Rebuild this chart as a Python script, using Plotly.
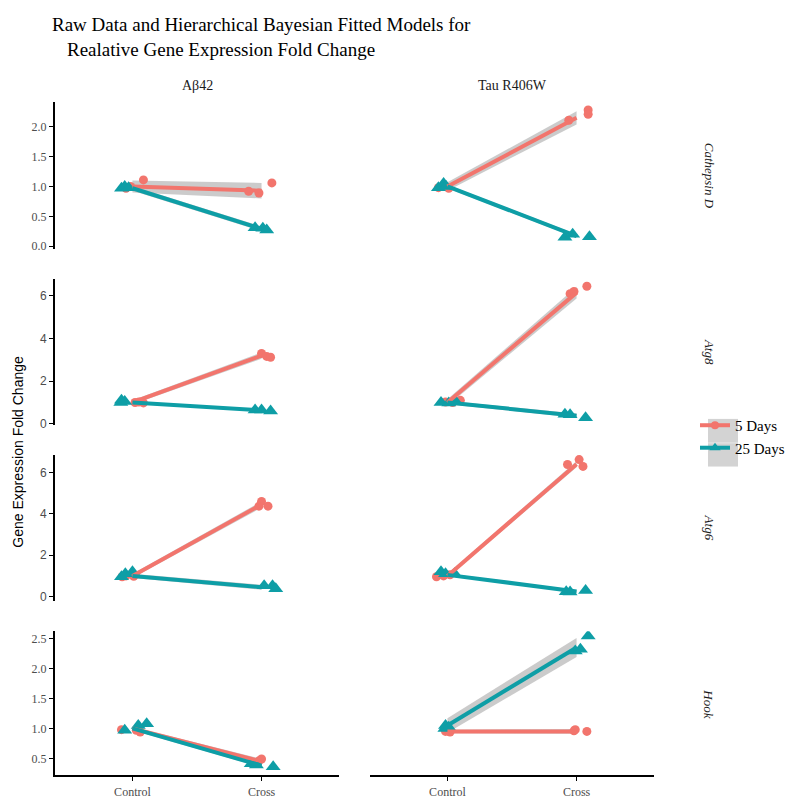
import plotly.graph_objects as go

# ---------------- data ----------------
models = ["Aβ42", "Tau R406W"]
genes = ["Cathepsin D", "Atg8", "Atg6", "Hook"]
groups = ["5 Days", "25 Days"]
x_ticks = ["Control", "Cross"]

# raw points per panel, panels ordered (gene row, model column):
# CathD-Ab42, CathD-Tau, Atg8-Ab42, Atg8-Tau, Atg6-Ab42, Atg6-Tau, Hook-Ab42, Hook-Tau
d5_x = [
    [0.95, 0.985, 1.085, 1.90, 1.98, 2.08],
    [0.93, 0.98, 1.01, 1.94, 2.09, 2.09],
    [1.02, 1.05, 1.085, 2.00, 2.04, 2.07],
    [0.985, 1.04, 1.10, 1.95, 1.98, 2.08],
    [0.92, 0.95, 1.01, 1.98, 2.00, 2.05],
    [0.915, 0.97, 1.02, 1.93, 2.02, 2.05],
    [0.915, 1.03, 1.06, 1.94, 1.98, 2.00],
    [0.985, 1.01, 1.02, 1.98, 1.99, 2.08],
]
d5_y = [
    [0.97, 1.00, 1.11, 0.92, 0.89, 1.06],
    [0.98, 1.00, 0.97, 2.11, 2.28, 2.21],
    [1.00, 1.02, 0.98, 3.30, 3.16, 3.12],
    [1.02, 1.00, 1.10, 6.10, 6.20, 6.45],
    [0.96, 1.00, 0.98, 4.37, 4.60, 4.37],
    [0.96, 1.00, 1.05, 6.38, 6.62, 6.29],
    [0.98, 0.97, 0.94, 0.42, 0.46, 0.49],
    [0.95, 0.96, 0.94, 0.96, 0.98, 0.95],
]
d25_x = [
    [0.915, 0.94, 0.97, 1.95, 2.01, 2.04],
    [0.93, 0.97, 0.99, 1.91, 1.97, 2.10],
    [0.91, 0.915, 0.94, 1.95, 2.00, 2.07],
    [0.95, 1.01, 1.06, 1.91, 1.95, 2.07],
    [0.915, 0.945, 1.00, 2.02, 2.085, 2.11],
    [0.95, 0.985, 1.055, 1.92, 1.95, 2.07],
    [0.94, 1.045, 1.11, 1.92, 1.96, 2.09],
    [0.98, 0.985, 1.01, 1.99, 2.03, 2.09],
]
d25_y = [
    [0.97, 1.00, 0.98, 0.31, 0.30, 0.27],
    [0.98, 1.05, 1.00, 0.15, 0.20, 0.16],
    [1.00, 1.10, 1.05, 0.65, 0.65, 0.60],
    [1.00, 0.98, 1.07, 0.45, 0.42, 0.28],
    [0.96, 1.10, 1.20, 0.53, 0.53, 0.38],
    [1.20, 1.10, 1.10, 0.24, 0.22, 0.29],
    [0.97, 1.05, 1.08, 0.41, 0.39, 0.36],
    [1.00, 1.05, 1.02, 2.29, 2.32, 2.54],
]

# fitted model means (Control, Cross) and credible band half widths
fit5_mean = [[1.0, 0.93], [1.0, 2.15], [1.0, 3.2], [1.0, 6.15],
             [1.0, 4.45], [1.0, 6.4], [1.0, 0.45], [0.95, 0.95]]
fit5_hw = [[0.10, 0.13], [0.07, 0.11], [0.10, 0.15], [0.15, 0.28],
           [0.10, 0.15], [0.10, 0.15], [0.03, 0.04], [0.03, 0.04]]
fit25_mean = [[0.97, 0.29], [1.0, 0.17], [1.0, 0.63], [1.0, 0.38],
              [1.0, 0.45], [1.05, 0.25], [1.0, 0.38], [1.05, 2.35]]
fit25_hw = [[0.04, 0.04], [0.03, 0.03], [0.06, 0.06], [0.08, 0.10],
            [0.10, 0.12], [0.06, 0.07], [0.03, 0.03], [0.12, 0.16]]

row_ranges = [[-0.05, 2.41], [-0.05, 6.79], [-0.19, 6.86], [0.22, 2.62]]
row_ticks = [[0, 0.5, 1.0, 1.5, 2.0], [0, 2, 4, 6], [0, 2, 4, 6],
             [0.5, 1.0, 1.5, 2.0, 2.5]]
row_ticktext = [["0.0", "0.5", "1.0", "1.5", "2.0"], ["0", "2", "4", "6"],
                ["0", "2", "4", "6"], ["0.5", "1.0", "1.5", "2.0", "2.5"]]

# ---------------- style ----------------
RED = "#F2756D"
TEAL = "#0E9EA6"
BAND = "rgba(175,175,175,0.65)"
SERIF = "Liberation Serif, Times New Roman, serif"
SANS = "Liberation Sans, Arial, sans-serif"
W = H = 800

col_px = [(47, 331), (362, 646)]
row_px = [(95, 243), (273, 420), (450, 597), (628, 773)]

fig = go.Figure()
layout = dict(
    width=W, height=H, margin=dict(l=0, r=0, t=0, b=0),
    paper_bgcolor="white", plot_bgcolor="white", showlegend=True,
)

for r in range(4):
    for c in range(2):
        p = r * 2 + c
        k = p + 1
        xa = "x" if k == 1 else f"x{k}"
        ya = "y" if k == 1 else f"y{k}"
        xkey = "xaxis" if k == 1 else f"xaxis{k}"
        ykey = "yaxis" if k == 1 else f"yaxis{k}"
        x0, x1 = col_px[c]
        y0, y1 = row_px[r]
        bottom = (r == 3)
        left = (c == 0)
        tfont = SERIF if r in (0, 3) else SANS
        layout[xkey] = dict(
            domain=[x0 / W, x1 / W], range=[0.4, 2.6], anchor=ya,
            tickvals=[1, 2], ticktext=x_ticks,
            showticklabels=bottom, showline=bottom, linecolor="black", linewidth=2,
            ticks="outside" if bottom else "", ticklen=4, tickcolor="black", tickwidth=1,
            tickfont=dict(family=SERIF, size=12, color="#4d4d4d"),
            showgrid=False, zeroline=False, fixedrange=True,
        )
        layout[ykey] = dict(
            domain=[1 - y1 / H, 1 - y0 / H], range=row_ranges[r], anchor=xa,
            tickvals=row_ticks[r], ticktext=row_ticktext[r],
            showticklabels=left, showline=left, linecolor="black", linewidth=2,
            ticks="outside" if left else "", ticklen=4, tickcolor="black", tickwidth=1,
            tickfont=dict(family=tfont, size=12, color="#4d4d4d"),
            showgrid=False, zeroline=False, fixedrange=True,
        )

        for g, (mean, hw, col) in enumerate([(fit5_mean, fit5_hw, RED),
                                             (fit25_mean, fit25_hw, TEAL)]):
            m = mean[p]
            h = hw[p]
            fig.add_trace(go.Scatter(
                x=[1, 2, 2, 1, 1],
                y=[m[0] - h[0], m[1] - h[1], m[1] + h[1], m[0] + h[0], m[0] - h[0]],
                fill="toself", fillcolor=BAND, line=dict(width=0),
                mode="lines", showlegend=False, hoverinfo="skip",
                xaxis=xa, yaxis=ya))
        for g, (xs, ys, col, sym, sz) in enumerate([
                (d5_x, d5_y, RED, "circle", 9),
                (d25_x, d25_y, TEAL, "triangle-up", 13)]):
            fig.add_trace(go.Scatter(
                x=xs[p], y=ys[p], mode="markers",
                marker=dict(color=col, symbol=sym, size=sz, line=dict(width=0)),
                showlegend=False, xaxis=xa, yaxis=ya))
        for g, (mean, col, wd) in enumerate([(fit5_mean, RED, 4),
                                             (fit25_mean, TEAL, 4)]):
            fig.add_trace(go.Scatter(
                x=[1, 2], y=mean[p], mode="lines",
                line=dict(color=col, width=wd),
                showlegend=False, xaxis=xa, yaxis=ya))

# legend entries
for name, col, sym, sz in [(groups[0], RED, "circle", 8), (groups[1], TEAL, "triangle-up", 10)]:
    fig.add_trace(go.Scatter(
        x=[None], y=[None], mode="lines+markers", name=name,
        line=dict(color=col, width=4),
        marker=dict(color=col, symbol=sym, size=sz),
        xaxis="x", yaxis="y"))

layout["legend"] = dict(
    x=687 / W, y=1 - 404 / H, xanchor="left", yanchor="top",
    font=dict(family=SERIF, size=15, color="black"),
    bgcolor="rgba(0,0,0,0)", itemwidth=30, tracegroupgap=0,
)
layout["shapes"] = [
    dict(type="rect", xref="paper", yref="paper",
         x0=700 / W, x1=730 / W, y0=1 - 438 / H, y1=1 - 414 / H,
         fillcolor="#d3d3d3", line=dict(width=0), layer="below"),
    dict(type="rect", xref="paper", yref="paper",
         x0=700 / W, x1=730 / W, y0=1 - 462 / H, y1=1 - 438.5 / H,
         fillcolor="#d3d3d3", line=dict(width=0), layer="below"),
]

ann = []
ann.append(dict(text="Raw Data and Hierarchical Bayesian Fitted Models for",
                x=42 / W, y=1 - 17 / H, xref="paper", yref="paper",
                xanchor="left", yanchor="middle", showarrow=False,
                font=dict(family=SERIF, size=19, color="black")))
ann.append(dict(text="Realative Gene Expression Fold Change",
                x=57 / W, y=1 - 42 / H, xref="paper", yref="paper",
                xanchor="left", yanchor="middle", showarrow=False,
                font=dict(family=SERIF, size=19, color="black")))
for c, m in enumerate(models):
    x0, x1 = col_px[c]
    ann.append(dict(text=m, x=(x0 + x1) / 2 / W, y=1 - 78 / H,
                    xref="paper", yref="paper", xanchor="center", yanchor="middle",
                    showarrow=False, font=dict(family=SERIF, size=14, color="#1a1a1a")))
for r, gname in enumerate(genes):
    y0, y1 = row_px[r]
    ann.append(dict(text=f"<i>{gname}</i>", x=701 / W, y=1 - (y0 + y1) / 2 / H,
                    xref="paper", yref="paper", xanchor="center", yanchor="middle",
                    textangle=90, showarrow=False,
                    font=dict(family=SERIF, size=13, color="#1a1a1a")))
ann.append(dict(text="Gene Expression Fold Change", x=10 / W, y=1 - 447 / H,
                xref="paper", yref="paper", xanchor="center", yanchor="middle",
                textangle=-90, showarrow=False,
                font=dict(family=SANS, size=14, color="black")))
layout["annotations"] = ann

fig.update_layout(**layout)
fig.write_html("out.html")
